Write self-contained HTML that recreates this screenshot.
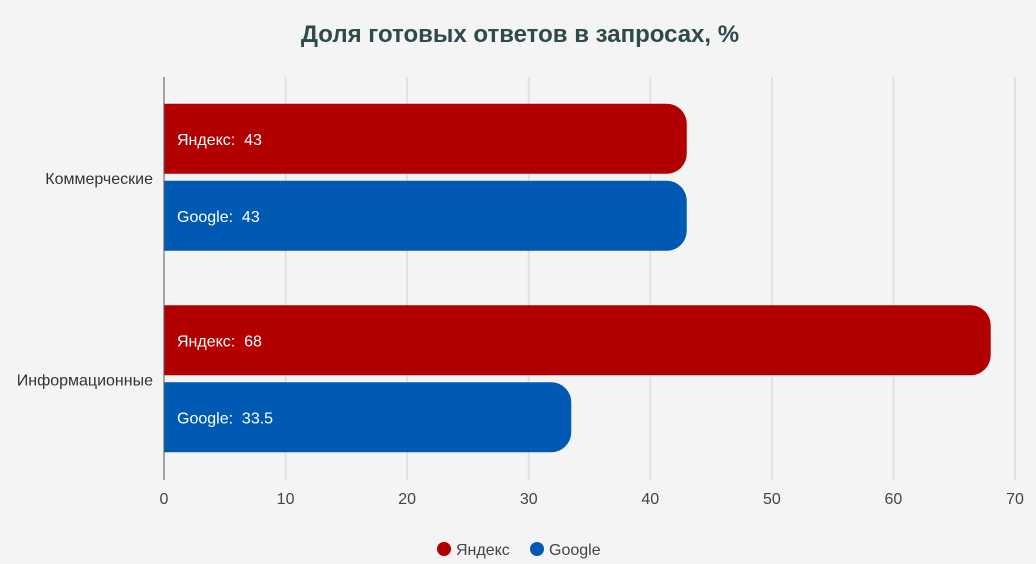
<!DOCTYPE html>
<html><head><meta charset="utf-8"><style>
body{margin:0;background:#f4f4f4;font-family:"Liberation Sans",sans-serif;}
svg{display:block}
</style></head><body>
<svg id="c" width="1036" height="564">
<rect width="1036" height="564" fill="#f4f4f4"/>
<text x="520" y="42" text-anchor="middle" font-size="24" font-weight="bold" fill="#2e4a4a">Доля готовых ответов в запросах, %</text>
<g id="grid"></g><g id="bars"></g><g id="axes"></g>
<g>
<g><circle cx="444" cy="549" r="7" fill="#b20000"/><text x="456" y="555" font-size="16" fill="#444">Яндекс</text></g>
<g><circle cx="537" cy="549" r="7" fill="#005ab4"/><text x="549" y="555" font-size="16" fill="#444">Google</text></g>
</g>
</svg>
<script>
const categories=["Коммерческие","Информационные"];
const yandex=[43,68];
const google=[43,33.5];
const ticks=[0,10,20,30,40,50,60,70];
const NS="http://www.w3.org/2000/svg";
const x0=164,x1=1015,yTop=77,yBot=480,maxV=70;
const xs=v=>x0+(x1-x0)*v/maxV;
const band=(yBot-yTop)/categories.length;
function mk(t,a,p){const e=document.createElementNS(NS,t);for(const k in a)e.setAttribute(k,a[k]);p.appendChild(e);return e;}
const grid=document.getElementById('grid'),bars=document.getElementById('bars'),axes=document.getElementById('axes');
ticks.forEach(t=>{
 if(t>0){const l=mk('line',{x1:xs(t),x2:xs(t),y1:yTop,y2:yBot,stroke:'#e0e0e0','stroke-width':2},grid);
 
 }
 const tx=mk('text',{x:xs(t),y:504,'text-anchor':'middle','font-size':16,fill:'#444'},axes);tx.textContent=t;
 
 
});
const ax=mk('line',{x1:x0,x2:x0,y1:yTop,y2:yBot,stroke:'#555','stroke-width':1},axes);


function bar(v,y,col,lab,name){
 const w=xs(v)-x0,h=70,r=Math.min(20,w);
 const p=mk('path',{d:`M${x0},${y}H${x0+w-r}A${r},${r} 0 0 1 ${x0+w},${y+r}V${y+h-r}A${r},${r} 0 0 1 ${x0+w-r},${y+h}H${x0}Z`,fill:col},bars);
 
 
 const t=mk('text',{x:177,y:y+41,'font-size':16,fill:'#fff',style:'white-space:pre'},bars);t.textContent=lab+':  '+v;
 
 
}
categories.forEach((c,i)=>{
 const yc=yTop+band*i+band/2;
 bar(yandex[i],yc-74,'#b20000','Яндекс','bar-yandex-'+i);
 bar(google[i],yc+3,'#005ab4','Google','bar-google-'+i);
 const t=mk('text',{x:153,y:yc+6,'text-anchor':'end','font-size':16,fill:'#333'},axes);t.textContent=c;
 
 
});
</script>
</body></html>
